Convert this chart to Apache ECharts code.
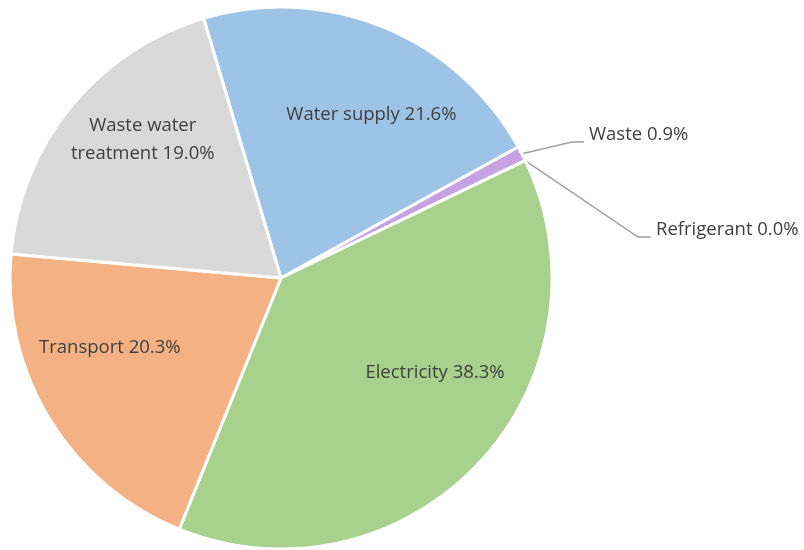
<!DOCTYPE html>
<html>
<head>
<meta charset="utf-8">
<script src="https://cdn.jsdelivr.net/npm/echarts@6/dist/echarts.min.js"></script>
<style>
  html, body { margin: 0; padding: 0; background: #ffffff; }
  #chart { width: 804px; height: 550px; }
</style>
</head>
<body>
<div id="chart"></div>
<script>
// Emission sources, percentage share
const categories = ['Water supply', 'Waste', 'Refrigerant', 'Electricity', 'Transport', 'Waste water\ntreatment'];
const shares = [21.6, 0.9, 0.0, 38.3, 20.3, 19.0];
const colors = ['#9DC3E6', '#C6A2E2', '#FFD966', '#A9D18E', '#F4B183', '#D9D9D9'];

// Thin slices: label outside, with an elbow leader line (label left edge, line height)
const outsideLabels = {
  'Waste': { x: 584, y: 142, elbow: 12 },
  'Refrigerant': { x: 651, y: 237, elbow: 13 }
};
// Nudges for labels placed inside the slices
const insideNudge = {
  'Water supply': [38, -35],
  'Electricity': [53, 0],
  'Transport': [-53, -2],
  'Waste water\ntreatment': [-31, -51]
};

const data = categories.map((name, i) => {
  const item = { name: name, value: shares[i], itemStyle: { color: colors[i] } };
  if (outsideLabels[name]) {
    item.label = { position: 'outside', padding: [0, 0, 0, 5] };
    item.labelLine = { show: true, length: 10, length2: outsideLabels[name].elbow };
  } else {
    item.label = { position: 'inside' };
    item.labelLine = { show: false };
  }
  return item;
});

const chart = echarts.init(document.getElementById('chart'), null, { renderer: 'canvas' });
chart.setOption({
  animation: false,
  backgroundColor: '#ffffff',
  series: [{
    type: 'pie',
    center: [281, 278],
    radius: 271,
    startAngle: 106.6,
    clockwise: true,
    avoidLabelOverlap: false,
    itemStyle: { borderColor: '#ffffff', borderWidth: 3 },
    label: {
      show: true,
      color: '#404040',
      fontFamily: 'Open Sans',
      fontSize: 18.5,
      lineHeight: 28,
      formatter: p => p.name + ' ' + p.value.toFixed(1) + '%'
    },
    labelLine: { lineStyle: { color: '#A0A0A0', width: 1.5 } },
    labelLayout: function (params) {
      const name = categories[params.dataIndex];
      const o = outsideLabels[name];
      if (o) {
        const res = { x: o.x, y: o.y - 7, align: 'left', verticalAlign: 'middle' };
        if (params.labelLinePoints) {
          const start = params.labelLinePoints[0];
          res.labelLinePoints = [start, [o.x - o.elbow, o.y], [o.x, o.y]];
        }
        return res;
      }
      const n = insideNudge[name];
      return { dx: n[0], dy: n[1] };
    },
    data: data
  }]
});
</script>
</body>
</html>
